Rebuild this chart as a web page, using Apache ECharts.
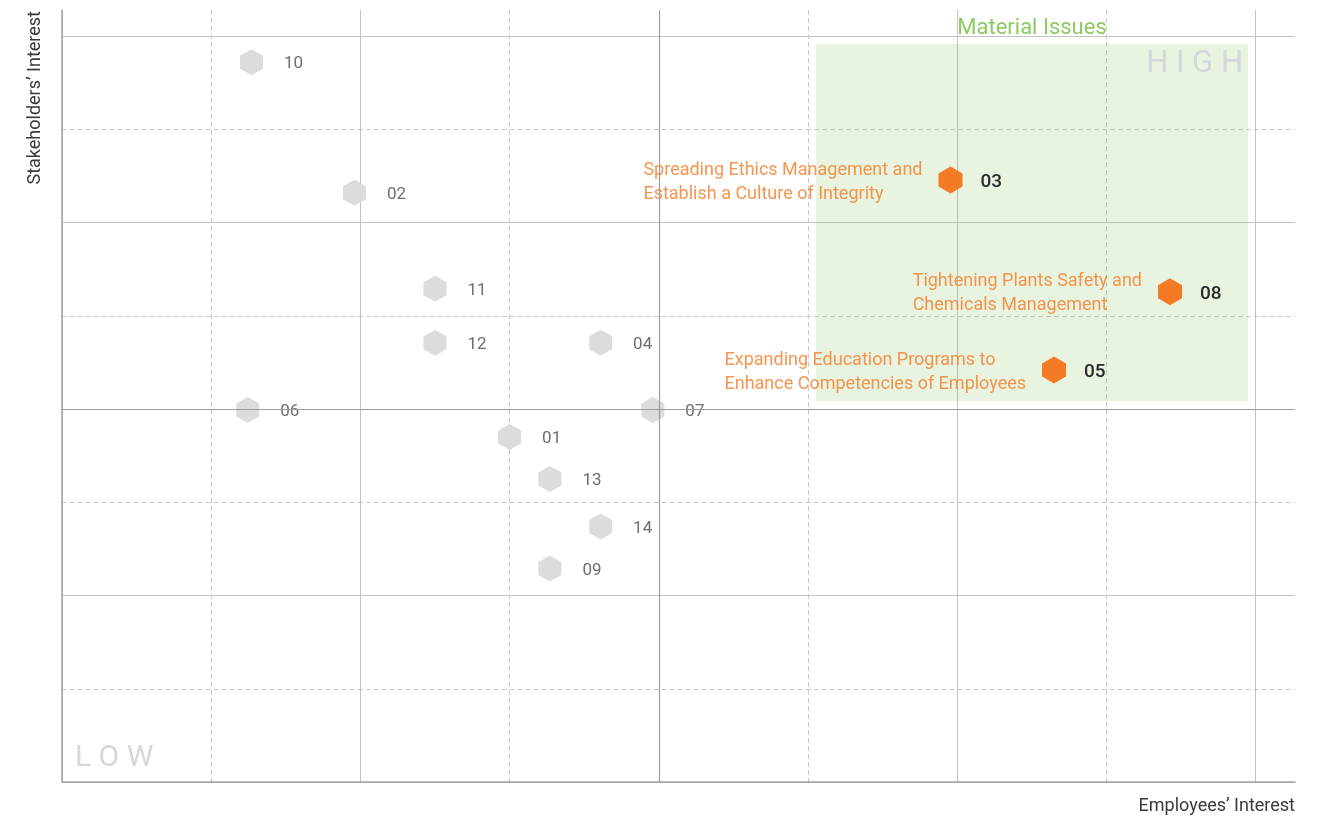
<!DOCTYPE html>
<html>
<head>
<meta charset="utf-8">
<title>Materiality Matrix</title>
<script src="https://cdn.jsdelivr.net/npm/echarts@6/dist/echarts.min.js"></script>
<style>html,body{margin:0;padding:0;background:#fff;}</style>
</head>
<body>
<div id="main" style="width:1329px;height:819px;"></div>
<script type="text/javascript">
// issues outside the material area (gray)
var otherNames = ['10', '02', '11', '12', '04', '06', '07', '01', '13', '14', '09'];
var otherX = [1.27, 1.96, 2.5, 2.5, 3.61, 1.245, 3.96, 3.0, 3.27, 3.61, 3.27];
var otherY = [7.72, 6.32, 5.29, 4.71, 4.71, 3.99, 3.99, 3.70, 3.25, 2.74, 2.29];

// material issues (orange)
var materialNames = ['03', '08', '05'];
var materialX = [5.955, 7.426, 6.649];
var materialY = [6.456, 5.258, 4.418];
var materialText = [
    'Spreading Ethics Management and\nEstablish a Culture of Integrity',
    'Tightening Plants Safety and\nChemicals Management',
    'Expanding Education Programs to\nEnhance Competencies of Employees'
];

// green "Material Issues" box corners [x, y]
var boxFrom = [5.054, 7.914];
var boxTo = [7.949, 4.086];

var X_MAX = 8.264;
var Y_MAX = 8.28;
var FONT = 'Roboto';

var hexGray = 'path://M11.5 0 L23 6.5 L23 19.5 L11.5 26 L0 19.5 L0 6.5 Z';
var hexOrange = 'path://M12 0 L24 7 L24 20 L12 27 L0 20 L0 7 Z';

var myChart = echarts.init(document.getElementById('main'));

var zip = function(xs, ys, names) {
    var out = [];
    for (var i = 0; i < xs.length; i++) {
        out.push({ name: names[i], value: [xs[i], ys[i]] });
    }
    return out;
};

var makeAxis = function(max, interval, type, color, showLine) {
    return {
        type: 'value',
        min: 0,
        max: max,
        interval: interval,
        axisLine: { show: showLine, onZero: false, lineStyle: { color: '#a3a3a3', width: 1.5 } },
        axisTick: { show: false },
        axisLabel: { show: false },
        splitLine: {
            show: true,
            showMaxLine: false,
            lineStyle: { color: color, width: 1, type: type }
        }
    };
};

var option = {
    animation: false,
    grid: { left: 62, right: 34, top: 10, bottom: 37 },
    xAxis: [
        makeAxis(X_MAX, 1, [5, 3], '#cacaca', true),
        makeAxis(X_MAX, 2, 'solid', '#c2c2c2', false)
    ],
    yAxis: [
        makeAxis(Y_MAX, 1, [5, 3], '#cacaca', true),
        makeAxis(Y_MAX, 2, 'solid', '#c2c2c2', false)
    ],
    graphic: [
        {
            type: 'text', x: 35, y: 11, rotation: Math.PI / 2,
            style: { text: 'Stakeholders\u2019 Interest', fontFamily: FONT, fontSize: 18, fill: '#3a3a3a', align: 'right', verticalAlign: 'middle' }
        },
        {
            type: 'text', x: 1295, y: 806,
            style: { text: 'Employees\u2019 Interest', fontFamily: FONT, fontSize: 18, fill: '#3a3a3a', align: 'right', verticalAlign: 'middle' }
        },
        {
            type: 'text', x: 75, y: 758,
            style: { text: 'L O W', fontFamily: FONT, fontSize: 30, fill: '#d5d7da', align: 'left', verticalAlign: 'middle' }
        }
    ],
    series: [
        {
            // box + darker centre lines
            type: 'scatter',
            data: [],
            z: 1,
            markArea: {
                silent: true,
                data: [
                    [
                        { coord: boxFrom, itemStyle: { color: 'rgba(141,198,99,0.2)' },
                          label: { show: true, position: 'top', distance: 5, formatter: 'Material Issues',
                                   color: '#8dc963', fontFamily: FONT, fontSize: 22 } },
                        { coord: boxTo }
                    ],
                    [
                        { coord: boxFrom, itemStyle: { color: 'rgba(0,0,0,0)' },
                          label: { show: true, position: 'insideTopRight', distance: 5, formatter: 'H I G H',
                                   color: '#d5d7da', fontFamily: FONT, fontSize: 31 } },
                        { coord: boxTo }
                    ]
                ]
            },
            markLine: {
                silent: true,
                symbol: 'none',
                label: { show: false },
                lineStyle: { color: '#9c9c9c', width: 1.2, type: 'solid' },
                data: [{ xAxis: 4 }, { yAxis: 4 }]
            }
        },
        {
            name: 'others',
            type: 'scatter',
            z: 3,
            symbol: hexGray,
            symbolSize: [23, 26],
            itemStyle: { color: '#dcdcde', opacity: 1 },
            label: {
                show: true, position: 'right', distance: 21, offset: [0, 2],
                formatter: '{b}', color: '#6e6e6e', fontFamily: FONT, fontSize: 17
            },
            data: zip(otherX, otherY, otherNames)
        },
        {
            name: 'material',
            type: 'scatter',
            z: 3,
            symbol: hexOrange,
            symbolSize: [24, 27],
            itemStyle: { color: '#f47a25', opacity: 1 },
            label: {
                show: true, position: 'right', distance: 18, offset: [0, 2],
                formatter: '{b}', color: '#2b2b2b', fontFamily: FONT, fontSize: 19, fontWeight: 500
            },
            data: zip(materialX, materialY, materialNames)
        },
        {
            name: 'materialText',
            type: 'scatter',
            z: 3,
            symbol: hexOrange,
            symbolSize: [24, 27],
            itemStyle: { color: 'rgba(0,0,0,0)' },
            label: {
                show: true, position: 'left', distance: 16, offset: [0, 2],
                formatter: function(p) {
                    return '{d|' + p.name.split('\n').join('}\n{d|') + '}';
                },
                rich: { d: { align: 'left', color: '#f47a25', fontFamily: FONT, fontSize: 18, lineHeight: 24 } }
            },
            data: zip(materialX, materialY, materialText)
        }
    ]
};
myChart.setOption(option);
</script>
</body>
</html>
